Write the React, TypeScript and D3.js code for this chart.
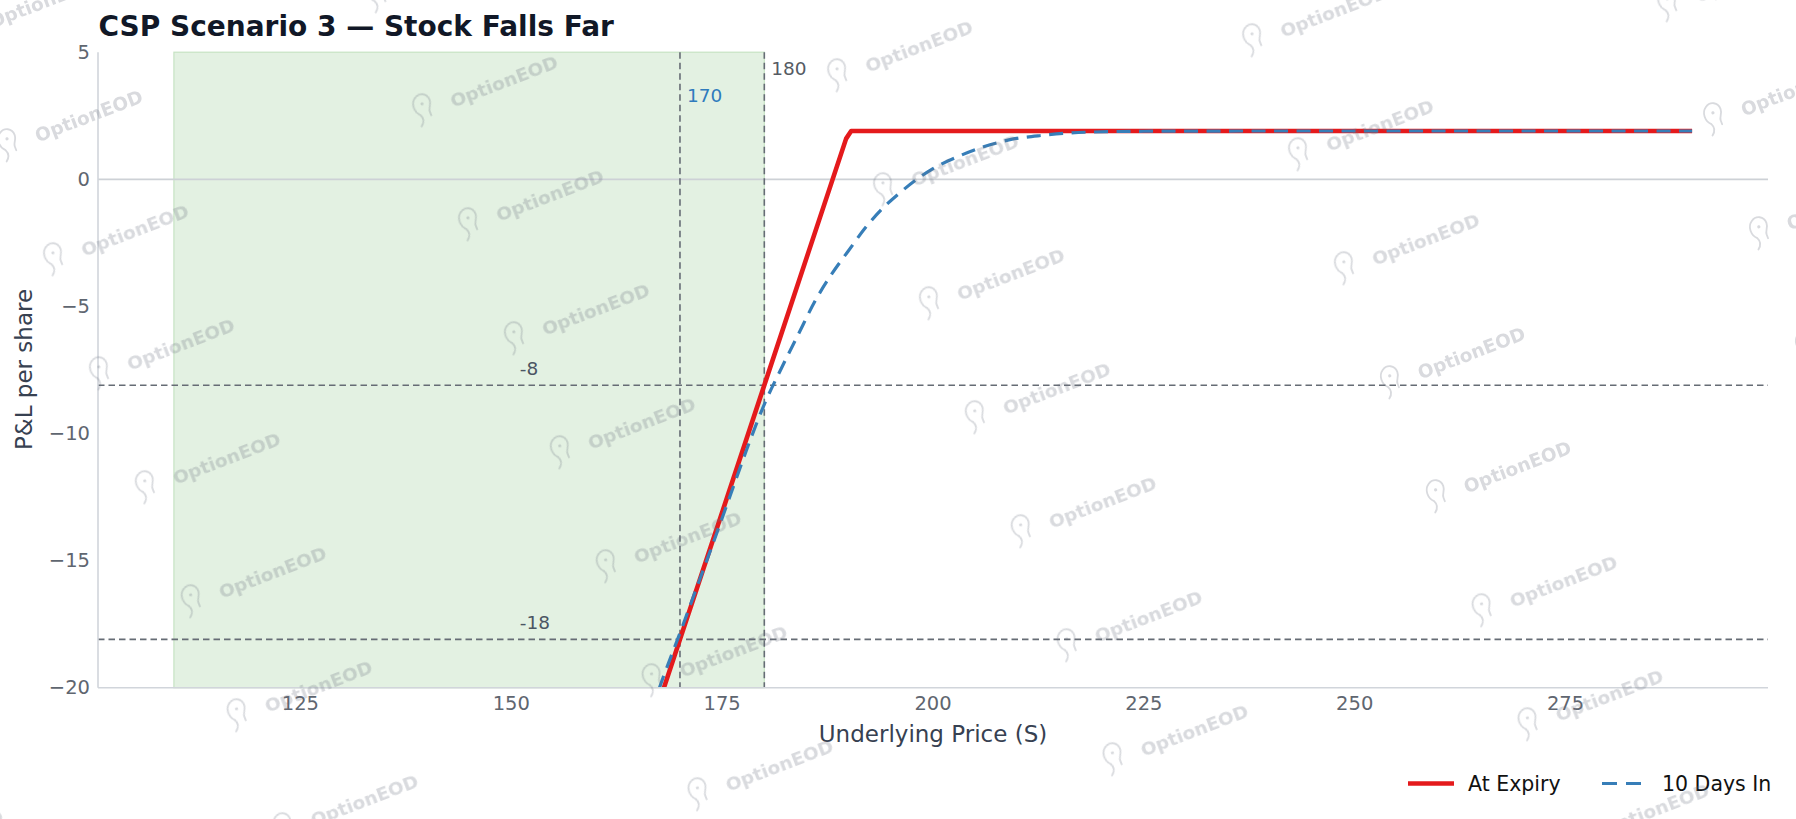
import React from 'react';
import * as d3 from 'd3';

// ---------- data ----------
const TITLE = 'CSP Scenario 3 — Stock Falls Far';
const X_LABEL = 'Underlying Price (S)';
const Y_LABEL = 'P&L per share';
const xTicks = [125, 150, 175, 200, 225, 250, 275];
const yTicks = [-20, -15, -10, -5, 0, 5];
const xDomain = [101, 299];
const yDomain = [-20, 5];
const shadeFrom = 110;
const shadeTo = 180;

const expiryS = [110, 189.7, 190.3, 290];
const expiryPnL = [-78.1, 1.6, 1.9, 1.9];

const daysInS = [164, 166, 168, 170, 172, 174, 176, 178, 180, 182, 184, 186, 188, 190, 192, 194, 196, 198, 200, 203, 206, 209, 213, 218, 225, 240, 260, 290];
const daysInPnL = [-23.4, -21.5, -19.6, -17.85, -16.05, -14.25, -12.4, -10.55, -8.85, -7.45, -6.12, -4.8, -3.72, -2.8, -1.9, -1.15, -0.55, -0.02, 0.42, 0.9, 1.28, 1.55, 1.73, 1.85, 1.89, 1.9, 1.9, 1.9];

const vLineX = [170, 180];
const vLineLabels = ['170', '180'];
const vLabelY = [3.3, 4.37];
const hLineY = [-8.1, -18.1];
const hLineLabels = ['-8', '-18'];
const hLabelX = 151;

const legendLabels = ['At Expiry', '10 Days In'];
const WATERMARK = 'OptionEOD';

// ---------- styles / layout ----------
const W = 1796;
const H = 819;
const M = { left: 98, right: 1768, top: 52.2, bottom: 687.7 };
const FONT = '"DejaVu Sans", "Liberation Sans", sans-serif';
const RED = '#e41a1c';
const BLUE = '#377eb8';
const REF = '#666c75';
const TICK = '#5f6670';
const LABEL = '#374151';

export default function App() {
  const x = d3.scaleLinear().domain(xDomain).range([M.left, M.right]);
  const y = d3.scaleLinear().domain(yDomain).range([M.bottom, M.top]);

  const expiry = expiryS.map((s, i) => [s, expiryPnL[i]] as [number, number]);
  const daysIn = daysInS.map((s, i) => [s, daysInPnL[i]] as [number, number]);

  const lineLin = d3.line<[number, number]>().x(d => x(d[0])).y(d => y(d[1]));
  const lineSmooth = d3
    .line<[number, number]>()
    .x(d => x(d[0]))
    .y(d => y(d[1]))
    .curve(d3.curveMonotoneX);

  // watermark lattice
  const marks: { cx: number; cy: number }[] = [];
  const p0 = [88.8, 116];
  const a = [45.9, 114];
  const b = [415, -35];
  for (let i = -4; i <= 10; i++) {
    for (let j = -3; j <= 6; j++) {
      const cx = p0[0] + i * a[0] + j * b[0];
      const cy = p0[1] + i * a[1] + j * b[1];
      if (cx > -150 && cx < W + 150 && cy > -40 && cy < H + 40) marks.push({ cx, cy });
    }
  }

  const legX = 1408;
  const legY = 783.5;

  return (
    <svg
      width={W}
      height={H}
      viewBox={`0 0 ${W} ${H}`}
      style={{ position: 'absolute', left: 0, top: 0, display: 'block', background: '#fff' }}
      fontFamily={FONT}
    >
      <defs>
        <clipPath id="plotClip">
          <rect x={M.left} y={M.top} width={M.right - M.left} height={M.bottom - M.top} />
        </clipPath>
      </defs>
      <rect x={0} y={0} width={W} height={H} fill="#ffffff" />

      {/* shaded region */}
      <rect
        x={x(shadeFrom)}
        y={y(yDomain[1])}
        width={x(shadeTo) - x(shadeFrom)}
        height={y(yDomain[0]) - y(yDomain[1])}
        fill="#e3f1e2"
        stroke="#c6e3c3"
        strokeWidth={1.2}
      />

      {/* zero line */}
      <line x1={M.left} x2={M.right} y1={y(0)} y2={y(0)} stroke="#cdd1d6" strokeWidth={1.8} />

      {/* reference lines */}
      {hLineY.map((v, i) => (
        <g key={'h' + i}>
          <line x1={M.left} x2={M.right} y1={y(v)} y2={y(v)} stroke={REF} strokeWidth={1.6} strokeDasharray="6.5,4" />
          <text x={x(hLabelX)} y={y(v) - 10} fontSize={18.5} fill="#4b5563">
            {hLineLabels[i]}
          </text>
        </g>
      ))}
      {vLineX.map((v, i) => (
        <g key={'v' + i}>
          <line x1={x(v)} x2={x(v)} y1={M.top} y2={M.bottom} stroke={REF} strokeWidth={1.6} strokeDasharray="6.5,4" />
          <text
            x={x(v) + 7}
            y={y(vLabelY[i])}
            dominantBaseline="central"
            fontSize={18.5}
            fill={i === 0 ? '#2f7bbd' : '#555b63'}
          >
            {vLineLabels[i]}
          </text>
        </g>
      ))}

      {/* curves */}
      <g clipPath="url(#plotClip)">
        <path d={lineLin(expiry) || ''} fill="none" stroke={RED} strokeWidth={4.6} strokeLinejoin="round" />
        <path
          d={lineSmooth(daysIn) || ''}
          fill="none"
          stroke={BLUE}
          strokeWidth={3.2}
          strokeDasharray="14,8.5"
        />
      </g>

      {/* spines */}
      <line x1={M.left} x2={M.left} y1={M.top} y2={M.bottom} stroke="#d1d5db" strokeWidth={1.6} />
      <line x1={M.left} x2={M.right} y1={M.bottom} y2={M.bottom} stroke="#d1d5db" strokeWidth={1.6} />

      {/* ticks */}
      {xTicks.map(t => (
        <text key={'xt' + t} x={x(t)} y={703.4} textAnchor="middle" dominantBaseline="central" fontSize={19.5} fill={TICK}>
          {String(t)}
        </text>
      ))}
      {yTicks.map(t => (
        <text key={'yt' + t} x={90} y={y(t)} textAnchor="end" dominantBaseline="central" fontSize={19.5} fill={TICK}>
          {t < 0 ? '\u2212' + Math.abs(t) : String(t)}
        </text>
      ))}

      {/* axis labels */}
      <text x={(M.left + M.right) / 2} y={733.7} textAnchor="middle" dominantBaseline="central" fontSize={23} fill={LABEL}>
        {X_LABEL}
      </text>
      <text
        transform={`translate(24,369.5) rotate(-90)`}
        textAnchor="middle"
        dominantBaseline="central"
        fontSize={23}
        fill={LABEL}
      >
        {Y_LABEL}
      </text>

      {/* title */}
      <text x={98.5} y={36} fontSize={28} fontWeight="bold" fill="#111827">
        {TITLE}
      </text>

      {/* legend */}
      <g>
        <line x1={legX} x2={legX + 46} y1={legY} y2={legY} stroke={RED} strokeWidth={4.6} />
        <text x={legX + 60} y={legY} dominantBaseline="central" fontSize={20.5} fill="#111">
          {legendLabels[0]}
        </text>
        <line x1={legX + 194} x2={legX + 240} y1={legY} y2={legY} stroke={BLUE} strokeWidth={3.2} strokeDasharray="15,9" />
        <text x={legX + 254} y={legY} dominantBaseline="central" fontSize={20.5} fill="#111">
          {legendLabels[1]}
        </text>
      </g>

      {/* watermarks */}
      <g opacity={0.26} pointerEvents="none">
        {marks.map((m, k) => (
          <g key={'wm' + k} transform={`translate(${m.cx},${m.cy}) rotate(-21)`}>
            <text x={0} y={0} textAnchor="middle" dominantBaseline="central" fontSize={18.5} fontWeight="bold" fill="#6b7280">
              {WATERMARK}
            </text>
            <g transform="translate(-86,-3)">
              <path
                d="M -7 16 C -3 13, -2 9, -4 5 C -9 0, -9 -9, -3 -13 C 3 -17, 10 -13, 10 -6 C 10 -1, 6 1, 6 5 L 6 9"
                fill="none"
                stroke="#6b7280"
                strokeWidth={1.8}
                strokeLinecap="round"
              />
              <circle cx={1.5} cy={-5} r={1.6} fill="#6b7280" />
            </g>
          </g>
        ))}
      </g>
    </svg>
  );
}
